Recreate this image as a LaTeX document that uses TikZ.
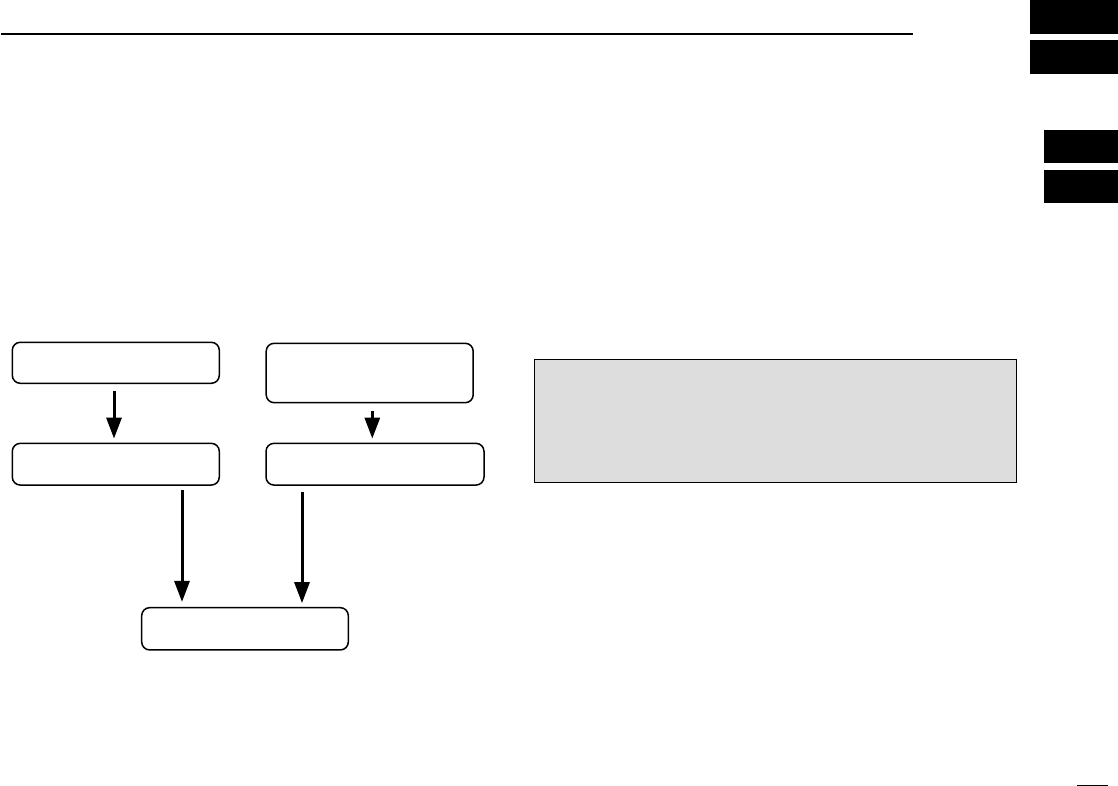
\documentclass[tikz,border=0pt]{standalone}
\usetikzlibrary{arrows.meta}
\definecolor{panelgray}{HTML}{DCDDDC}
\tikzset{
  flowbox/.style={draw=black, line width=1.5pt, rounded corners=8pt, inner sep=0pt},
  flowarrow/.style={line width=3pt, -{Triangle[length=21pt,width=15pt]}},
  tab/.style={fill=black, draw=none},
  panel/.style={fill=panelgray, draw=black, line width=1pt, inner sep=0pt},
}
\begin{document}
\begin{tikzpicture}[x=1pt,y=-1pt]
\useasboundingbox (0,0) rectangle (1118,786);
% header rule
\draw[line width=2.5pt] (1,34) -- (913,34);
% side tabs
\fill[black] (1030,0) rectangle (1118,34);
\fill[black] (1030,40) rectangle (1118,73.7);
\fill[black] (1044,130) rectangle (1118,163);
\fill[black] (1044,170) rectangle (1118,202.7);
% page number rule
\draw[line width=1pt] (1077,785) -- (1108,785);
% flow boxes
\node[flowbox, minimum width=207pt, minimum height=41pt] (A) at (115.8,362.8) {};
\node[flowbox, minimum width=207pt, minimum height=59.4pt] (B) at (369.7,373) {};
\node[flowbox, minimum width=207pt, minimum height=41.7pt] (C) at (115.8,464.2) {};
\node[flowbox, minimum width=218pt, minimum height=41.7pt] (D) at (375,464.2) {};
\node[flowbox, minimum width=206.6pt, minimum height=42.3pt] (E) at (245,628.8) {};
% grey panel
\node[panel, minimum width=482pt, minimum height=122.7pt] (P) at (775,421.3) {};
% arrows
\draw[flowarrow, shorten <=6.7pt, shorten >=4pt] ([xshift=-1.8pt]A.south) -- ([xshift=-1.8pt]C.north);
\draw[flowarrow, shorten <=7.3pt, shorten >=4pt] ([xshift=2.6pt]B.south) -- ([xshift=-2.7pt]D.north);
\draw[flowarrow, shorten <=4.3pt, shorten >=5pt] ([xshift=66.2pt]C.south) -- ([xshift=-63pt]E.north);
\draw[flowarrow, shorten <=6pt, shorten >=3.7pt] ([xshift=-73pt]D.south) -- ([xshift=57pt]E.north);
\end{tikzpicture}
\end{document}
